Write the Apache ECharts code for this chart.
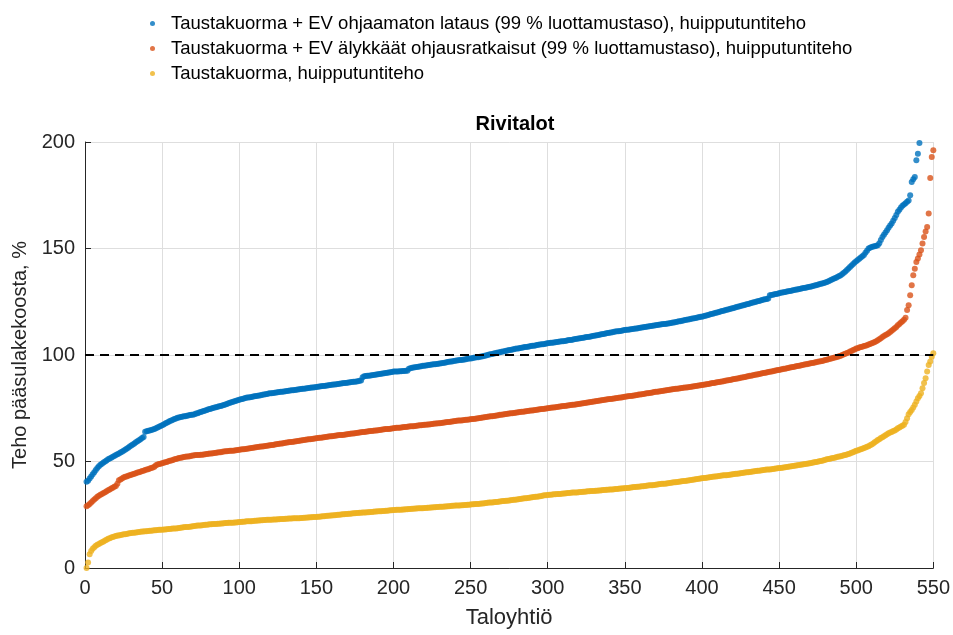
<!DOCTYPE html>
<html>
<head>
<meta charset="utf-8">
<script src="https://cdn.jsdelivr.net/npm/echarts@6/dist/echarts.min.js"></script>
<style>
  html, body { margin: 0; padding: 0; background: #fff; }
  #chart { width: 953px; height: 635px; }
</style>
</head>
<body>
<div id="chart"></div>
<script>
// taloyhtiöt järjestettynä, arvot luettu kuvasta (% pääsulakekoosta)
var xTicks = [0, 50, 100, 150, 200, 250, 300, 350, 400, 450, 500, 550];
var yTicks = [0, 50, 100, 150, 200];
var limitValue = 100;

var seriesNames = [
    'Taustakuorma + EV ohjaamaton lataus (99 % luottamustaso), huipputuntiteho',
    'Taustakuorma + EV älykkäät ohjausratkaisut (99 % luottamustaso), huipputuntiteho',
    'Taustakuorma, huipputuntiteho'
];

var uncontrolled = [
    40.5,41,42,43,44,45,46,47,47.8,48.5,
    49,49.5,50,50.5,51,51.4,51.8,52.2,52.6,53,
    53.4,53.8,54.2,54.6,55,55.5,56,56.5,57,57.5,
    58,58.5,59,59.5,60,60.5,61,61.5,64,64.2,
    64.4,64.6,64.8,65,65.2,65.6,66,66.3,66.7,67,
    67.4,67.8,68.2,68.6,69,69.3,69.6,69.9,70.2,70.5,
    70.7,70.9,71,71.2,71.3,71.5,71.6,71.8,71.9,72,
    72.2,72.5,72.7,73,73.2,73.5,73.7,74,74.2,74.5,
    74.7,74.9,75.1,75.3,75.5,75.7,75.9,76.1,76.3,76.5,
    76.8,77,77.3,77.6,77.8,78.1,78.3,78.5,78.8,79,
    79.2,79.4,79.6,79.8,80,80.1,80.2,80.3,80.5,80.6,
    80.7,80.9,81,81.1,81.3,81.4,81.6,81.7,81.9,82,
    82.1,82.2,82.3,82.4,82.5,82.6,82.7,82.8,82.9,83,
    83.1,83.2,83.3,83.4,83.5,83.6,83.7,83.8,83.9,84,
    84.1,84.2,84.3,84.4,84.5,84.6,84.7,84.8,84.9,85,
    85.1,85.2,85.3,85.4,85.5,85.6,85.7,85.8,85.9,86,
    86.1,86.2,86.3,86.4,86.5,86.6,86.7,86.8,86.9,87,
    87.1,87.2,87.3,87.4,87.5,87.6,87.7,87.9,88,89.5,
    90,90.1,90.2,90.3,90.4,90.5,90.6,90.7,90.9,91,
    91.1,91.2,91.3,91.4,91.6,91.7,91.8,91.9,92,92.2,
    92.2,92.3,92.3,92.4,92.4,92.5,92.5,92.6,92.6,93.5,
    93.8,94,94.1,94.3,94.4,94.5,94.6,94.7,94.9,95,
    95.1,95.2,95.3,95.4,95.5,95.6,95.7,95.8,95.9,96,
    96.1,96.3,96.4,96.5,96.7,96.8,96.9,97,97.2,97.3,
    97.4,97.5,97.6,97.7,97.8,97.9,98,98.2,98.3,98.4,
    98.5,98.7,98.8,98.9,99,99.2,99.3,99.4,99.6,99.8,
    100,100.2,100.3,100.5,100.7,100.8,101,101.2,101.3,101.5,
    101.7,101.8,102,102.1,102.3,102.4,102.6,102.7,102.9,103,
    103.1,103.3,103.4,103.5,103.7,103.8,103.9,104,104.2,104.3,
    104.4,104.5,104.7,104.8,104.9,105,105.1,105.2,105.4,105.5,
    105.6,105.7,105.8,105.9,106,106.1,106.2,106.3,106.4,106.5,
    106.6,106.7,106.9,107,107.1,107.2,107.4,107.5,107.6,107.8,
    107.9,108,108.1,108.2,108.4,108.5,108.6,108.7,108.9,109,
    109.1,109.3,109.4,109.6,109.7,109.9,110,110.2,110.3,110.5,
    110.6,110.7,110.9,111,111.1,111.2,111.3,111.4,111.6,111.7,
    111.8,111.9,112,112.1,112.2,112.3,112.4,112.5,112.7,112.8,
    112.9,113,113.2,113.3,113.4,113.5,113.6,113.7,113.9,114,
    114.1,114.2,114.3,114.4,114.5,114.6,114.7,114.8,114.9,115,
    115.2,115.3,115.5,115.6,115.8,115.9,116.1,116.2,116.4,116.5,
    116.7,116.8,117,117.1,117.3,117.4,117.6,117.7,117.9,118,
    118.2,118.4,118.6,118.8,119,119.2,119.4,119.6,119.8,120,
    120.2,120.4,120.6,120.8,121,121.2,121.4,121.6,121.8,122,
    122.2,122.4,122.6,122.8,123,123.2,123.4,123.6,123.8,124,
    124.2,124.4,124.6,124.8,125,125.2,125.4,125.6,125.8,126,
    126.2,126.3,126.5,128,128.2,128.3,128.5,128.6,128.8,129,
    129.2,129.3,129.5,129.6,129.8,129.9,130.1,130.2,130.4,130.5,
    130.7,130.8,131,131.1,131.3,131.4,131.6,131.7,131.9,132,
    132.2,132.4,132.6,132.8,133,133.2,133.4,133.6,133.8,134,
    134.3,134.6,135,135.3,135.7,136,136.3,136.7,137.1,137.5,
    138,138.6,139.2,139.9,140.6,141.3,142,142.7,143.4,144,
    144.6,145.2,145.8,146.4,147,148,149,150,150.4,150.7,
    150.9,151.1,151.3,151.5,152.5,154,155.4,156.4,157.5,158.6,
    159.8,160.8,161.7,163,164.3,165.7,167.2,168.2,169.2,170.1,
    170.6,171.2,171.9,172.5,175,181.2,182.5,183.6,191.4,194.5,
    199.5
];

var smartCharging = [
    29,29.5,30,30.7,31.5,32.2,32.8,33.4,33.9,34.4,
    34.8,35.2,35.6,36,36.5,36.9,37.3,37.7,38.1,38.5,
    39.5,41.2,41.6,42,42.5,42.8,43,43.3,43.5,43.8,
    44,44.3,44.5,44.8,45,45.2,45.5,45.7,46,46.2,
    46.4,46.7,46.9,47.2,47.5,48.2,48.6,48.8,49,49.2,
    49.4,49.6,49.8,50.1,50.3,50.5,50.7,51,51.2,51.4,
    51.6,51.8,51.9,52.1,52.2,52.3,52.4,52.5,52.7,52.8,
    52.9,53,53,53.1,53.2,53.2,53.3,53.4,53.5,53.6,
    53.7,53.8,53.9,54,54.1,54.2,54.3,54.4,54.6,54.7,
    54.8,54.8,54.9,55,55.1,55.1,55.2,55.3,55.4,55.5,
    55.6,55.7,55.8,55.9,56,56.1,56.2,56.3,56.5,56.6,
    56.7,56.8,56.9,57,57.1,57.2,57.3,57.4,57.5,57.6,
    57.7,57.8,58,58.1,58.2,58.3,58.4,58.5,58.7,58.8,
    58.9,59,59.1,59.2,59.3,59.4,59.5,59.6,59.8,59.9,
    60,60.1,60.2,60.3,60.4,60.5,60.6,60.7,60.8,60.9,
    61,61.1,61.2,61.3,61.4,61.5,61.6,61.7,61.8,61.9,
    62,62.1,62.2,62.3,62.4,62.5,62.5,62.6,62.7,62.8,
    62.9,63,63.1,63.2,63.3,63.4,63.5,63.6,63.7,63.8,
    63.9,64,64.1,64.2,64.3,64.3,64.4,64.5,64.6,64.7,
    64.8,64.9,65,65.1,65.2,65.2,65.3,65.4,65.5,65.6,
    65.7,65.8,65.8,65.9,66,66.1,66.2,66.2,66.3,66.4,
    66.5,66.6,66.6,66.7,66.8,66.9,67,67,67.1,67.2,
    67.3,67.4,67.4,67.5,67.6,67.7,67.8,67.8,67.9,68,
    68.1,68.2,68.3,68.4,68.5,68.6,68.7,68.8,68.9,69,
    69.1,69.2,69.2,69.3,69.4,69.5,69.6,69.6,69.7,69.8,
    69.9,70,70.1,70.2,70.3,70.4,70.5,70.6,70.8,70.9,
    71,71.1,71.2,71.3,71.4,71.5,71.6,71.7,71.9,72,
    72.1,72.2,72.3,72.4,72.5,72.6,72.7,72.8,72.9,73,
    73.1,73.2,73.3,73.4,73.5,73.6,73.7,73.8,73.9,74,
    74.1,74.2,74.3,74.4,74.5,74.6,74.7,74.8,74.9,75,
    75.1,75.2,75.3,75.4,75.5,75.6,75.7,75.8,75.9,76,
    76.1,76.2,76.3,76.4,76.5,76.6,76.7,76.8,76.9,77,
    77.1,77.2,77.4,77.5,77.6,77.7,77.8,77.9,78.1,78.2,
    78.3,78.4,78.5,78.6,78.8,78.9,79,79.1,79.2,79.3,
    79.4,79.5,79.6,79.7,79.8,79.9,80,80.1,80.3,80.4,
    80.5,80.6,80.7,80.8,80.9,81,81.1,81.2,81.4,81.5,
    81.6,81.7,81.8,82,82.1,82.2,82.3,82.4,82.6,82.7,
    82.8,82.9,83,83.1,83.2,83.3,83.4,83.6,83.7,83.8,
    83.9,84,84.1,84.2,84.3,84.4,84.5,84.6,84.7,84.8,
    84.9,85,85.1,85.2,85.3,85.5,85.6,85.7,85.8,85.9,
    86,86.2,86.3,86.4,86.5,86.7,86.8,86.9,87.1,87.2,
    87.3,87.5,87.6,87.7,87.9,88,88.1,88.3,88.4,88.6,
    88.7,88.8,89,89.1,89.3,89.4,89.6,89.7,89.9,90,
    90.2,90.3,90.5,90.6,90.8,90.9,91.1,91.2,91.4,91.5,
    91.7,91.8,92,92.1,92.3,92.4,92.6,92.7,92.9,93,
    93.2,93.3,93.5,93.6,93.8,93.9,94.1,94.2,94.4,94.5,
    94.7,94.8,95,95.1,95.3,95.4,95.6,95.7,95.9,96,
    96.2,96.3,96.5,96.6,96.8,96.9,97.1,97.2,97.4,97.6,
    97.8,98,98.2,98.4,98.6,98.8,99,99.2,99.4,99.7,
    100,100.3,100.6,100.9,101.2,101.6,101.9,102.3,102.6,103,
    103.2,103.5,103.7,103.9,104.2,104.4,104.6,104.9,105.2,105.5,
    105.8,106.1,106.5,106.9,107.4,107.9,108.4,108.9,109.4,109.8,
    110.2,110.8,111.4,112,112.6,113.2,114,114.6,115.2,115.9,
    116.6,117.5,121.1,123.4,128.1,132.8,137.5,140.5,143.7,145.3,
    147.2,149.2,152.3,155.4,158,160.1,166.4,183.1,193,196.1
];

var baseLoad = [
    0,2.6,6.5,8,9,9.8,10.4,10.9,11.3,11.7,
    12.1,12.5,12.9,13.3,13.7,14,14.3,14.5,14.8,15,
    15.2,15.3,15.5,15.6,15.8,15.9,16,16.2,16.3,16.4,
    16.5,16.6,16.7,16.8,16.9,17,17.1,17.1,17.2,17.3,
    17.4,17.5,17.5,17.6,17.7,17.7,17.8,17.9,17.9,18,
    18.1,18.1,18.2,18.3,18.3,18.4,18.5,18.5,18.6,18.7,
    18.8,18.9,19,19.1,19.2,19.3,19.3,19.4,19.5,19.6,
    19.7,19.8,19.9,20,20,20.1,20.2,20.3,20.3,20.4,
    20.5,20.5,20.6,20.7,20.7,20.8,20.8,20.9,20.9,21,
    21.1,21.1,21.2,21.2,21.3,21.3,21.4,21.4,21.5,21.6,
    21.6,21.7,21.7,21.8,21.9,21.9,22,22,22.1,22.2,
    22.2,22.3,22.3,22.4,22.4,22.5,22.5,22.6,22.6,22.7,
    22.7,22.8,22.8,22.8,22.9,22.9,23,23,23,23.1,
    23.1,23.2,23.2,23.2,23.3,23.3,23.4,23.4,23.4,23.5,
    23.5,23.6,23.6,23.7,23.7,23.8,23.8,23.9,23.9,24,
    24.1,24.1,24.2,24.3,24.3,24.4,24.5,24.5,24.6,24.7,
    24.8,24.8,24.9,25,25,25.1,25.2,25.2,25.3,25.4,
    25.5,25.5,25.6,25.7,25.7,25.8,25.8,25.9,25.9,26,
    26.1,26.1,26.2,26.2,26.3,26.3,26.4,26.5,26.5,26.6,
    26.7,26.7,26.8,26.8,26.9,26.9,27,27.1,27.1,27.2,
    27.2,27.3,27.3,27.4,27.4,27.5,27.5,27.6,27.6,27.7,
    27.7,27.8,27.8,27.9,27.9,28,28,28.1,28.1,28.2,
    28.2,28.3,28.3,28.4,28.4,28.5,28.5,28.6,28.6,28.7,
    28.7,28.8,28.9,28.9,29,29,29.1,29.2,29.2,29.3,
    29.3,29.4,29.4,29.5,29.5,29.6,29.6,29.7,29.7,29.8,
    29.9,29.9,30,30.1,30.1,30.2,30.3,30.3,30.4,30.5,
    30.6,30.7,30.7,30.8,30.9,31,31,31.1,31.2,31.3,
    31.4,31.5,31.6,31.6,31.7,31.8,31.9,32,32.1,32.2,
    32.3,32.4,32.5,32.6,32.7,32.8,32.9,33,33.1,33.2,
    33.3,33.4,33.5,33.6,33.7,33.8,34,34.1,34.2,34.3,
    34.4,34.4,34.5,34.6,34.6,34.7,34.8,34.8,34.9,35,
    35,35.1,35.2,35.2,35.3,35.4,35.4,35.5,35.5,35.6,
    35.7,35.7,35.8,35.8,35.9,36,36,36.1,36.1,36.2,
    36.3,36.3,36.4,36.4,36.5,36.6,36.6,36.7,36.7,36.8,
    36.9,36.9,37,37.1,37.1,37.2,37.3,37.3,37.4,37.5,
    37.6,37.6,37.7,37.8,37.9,38,38,38.1,38.2,38.3,
    38.4,38.4,38.5,38.6,38.7,38.8,38.8,38.9,39,39.1,
    39.2,39.3,39.4,39.5,39.5,39.6,39.7,39.8,39.9,40,
    40.1,40.2,40.3,40.4,40.5,40.6,40.7,40.8,40.9,41,
    41.1,41.2,41.3,41.4,41.5,41.7,41.8,41.9,42,42.1,
    42.2,42.3,42.4,42.5,42.6,42.7,42.8,42.9,43,43.1,
    43.2,43.3,43.4,43.5,43.5,43.6,43.7,43.8,43.9,44,
    44.1,44.2,44.3,44.4,44.5,44.6,44.7,44.8,44.9,45,
    45.1,45.2,45.3,45.4,45.5,45.6,45.7,45.8,45.9,46,
    46.1,46.2,46.3,46.3,46.4,46.5,46.6,46.7,46.8,46.9,
    47,47.1,47.2,47.3,47.4,47.5,47.6,47.8,47.9,48,
    48.1,48.2,48.4,48.5,48.6,48.7,48.8,48.9,49.1,49.2,
    49.3,49.5,49.6,49.8,49.9,50.1,50.2,50.4,50.6,50.8,
    51,51.2,51.3,51.5,51.7,51.8,52,52.2,52.3,52.5,
    52.7,52.9,53.1,53.3,53.5,53.8,54.1,54.4,54.7,55,
    55.2,55.5,55.7,56,56.3,56.6,56.9,57.2,57.6,58,
    58.5,59,59.5,60.1,60.5,61,61.4,61.9,62.3,62.8,
    63.3,63.6,63.9,64.3,64.6,65,65.6,66,66.4,66.8,
    67.2,68.5,70.3,72.2,73.2,74.2,75.4,76.6,78.2,79.7,
    80.8,82,84.4,86.8,89.1,92.2,95.3,96.9,99.2,100.8
];

var colors = ['#0072BD', '#D95319', '#EDB120'];
var font = "'Liberation Sans', Arial, sans-serif";
var textColor = '#262626';

function toPoints(values) {
    return values.map(function (v, i) { return [i + 1, v]; });
}

var chart = echarts.init(document.getElementById('chart'), null, { renderer: 'canvas' });

var option = {
    animation: false,
    backgroundColor: '#fff',
    color: colors,
    title: {
        text: 'Rivitalot',
        left: 510,
        top: 109,
        textAlign: 'center',
        textStyle: { fontFamily: font, fontSize: 20, fontWeight: 'bold', color: '#000' }
    },
    legend: {
        orient: 'vertical',
        left: 145,
        top: 9,
        itemWidth: 5,
        itemHeight: 5,
        itemGap: 6,
        icon: 'circle',
        data: seriesNames,
        textStyle: { fontFamily: font, fontSize: 18.5, color: '#000', padding: [0, 0, 0, 11] }
    },
    grid: { left: 85, right: 18, top: 142, bottom: 67, containLabel: false },
    xAxis: {
        type: 'value',
        min: xTicks[0],
        max: xTicks[xTicks.length - 1],
        interval: 50,
        name: 'Taloyhtiö',
        nameLocation: 'middle',
        nameGap: 39,
        nameTextStyle: { fontFamily: font, fontSize: 22, color: textColor },
        axisLine: { show: true, onZero: false, lineStyle: { color: textColor, width: 1 } },
        axisTick: { show: true, inside: true, length: 6, lineStyle: { color: textColor } },
        axisLabel: { fontFamily: font, fontSize: 20, color: textColor, margin: 10 },
        splitLine: { show: true, lineStyle: { color: '#dedede', width: 1 } }
    },
    yAxis: {
        type: 'value',
        min: yTicks[0],
        max: yTicks[yTicks.length - 1],
        interval: 50,
        name: 'Teho pääsulakekoosta, %',
        nameLocation: 'middle',
        nameGap: 53,
        nameTextStyle: { fontFamily: font, fontSize: 20, color: textColor },
        axisLine: { show: true, onZero: false, lineStyle: { color: textColor, width: 1 } },
        axisTick: { show: true, inside: true, length: 6, lineStyle: { color: textColor } },
        axisLabel: { fontFamily: font, fontSize: 20, color: textColor, margin: 10 },
        splitLine: { show: true, lineStyle: { color: '#dedede', width: 1 } }
    },
    series: [
        {
            name: seriesNames[0],
            type: 'scatter',
            symbolSize: 6,
            data: toPoints(uncontrolled)
        },
        {
            name: seriesNames[1],
            type: 'scatter',
            symbolSize: 6,
            data: toPoints(smartCharging)
        },
        {
            name: seriesNames[2],
            type: 'scatter',
            symbolSize: 6,
            data: toPoints(baseLoad),
            markLine: {
                silent: true,
                symbol: 'none',
                label: { show: false },
                lineStyle: { color: '#000', type: [9, 6], width: 2 },
                data: [{ yAxis: limitValue }]
            }
        }
    ]
};

chart.setOption(option);
</script>
</body>
</html>
